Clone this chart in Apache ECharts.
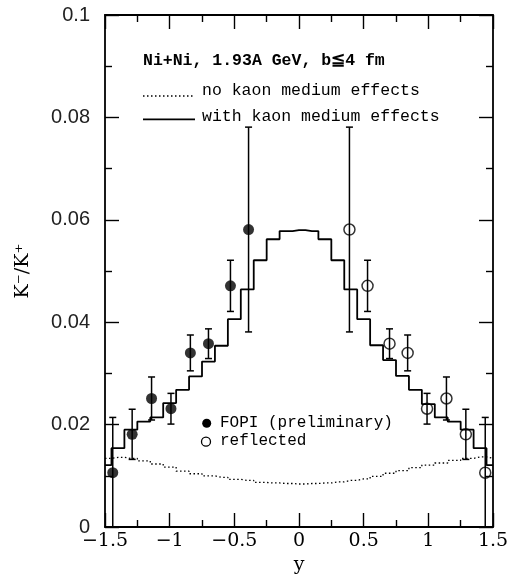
<!DOCTYPE html>
<html><head><meta charset="utf-8">
<script src="https://cdn.jsdelivr.net/npm/echarts@6/dist/echarts.min.js"></script>
<style>html,body{margin:0;padding:0;background:#fff}#c{width:512px;height:587px}</style>
</head><body><div id="c"></div>
<script>
// rapidity bin centres of the model histograms
const binCenters = [-1.5,-1.4,-1.3,-1.2,-1.1,-1.0,-0.9,-0.8,-0.7,-0.6,-0.5,-0.4,-0.3,-0.2,-0.1,0,
  0.1,0.2,0.3,0.4,0.5,0.6,0.7,0.8,0.9,1.0,1.1,1.2,1.3,1.4,1.5];
// K-/K+ with kaon medium effects (solid histogram)
const withMedium = [0.0121,0.0154,0.0190,0.0206,0.0214,0.0242,0.0268,0.0294,0.0323,0.0354,0.0406,0.0464,0.0521,0.0562,0.0578,0.0580,
  0.0578,0.0562,0.0521,0.0464,0.0406,0.0355,0.0326,0.0295,0.0268,0.0240,0.0214,0.0206,0.0190,0.0154,0.0121];
// K-/K+ without kaon medium effects (dotted histogram)
const noMedium = [0.0134,0.0136,0.0134,0.0129,0.0123,0.0117,0.0109,0.0104,0.0100,0.0097,0.0093,0.0091,0.0087,0.0086,0.0085,0.0084,
  0.0085,0.0086,0.0088,0.0091,0.0094,0.0099,0.0105,0.0110,0.0116,0.0121,0.0125,0.0130,0.0134,0.0137,0.0134];
// FOPI (preliminary) data
const fopiRapidity = [-1.44,-1.29,-1.14,-0.99,-0.84,-0.70,-0.53,-0.39];
const fopiRatio    = [0.0106,0.0181,0.0251,0.0231,0.0340,0.0358,0.0471,0.0581];
const fopiError    = [0.0108,0.0049,0.0042,0.0030,0.0035,0.0029,0.0050,0.0200];
// reflected points
const reflRapidity = [1.44,1.29,1.14,0.99,0.84,0.70,0.53,0.39];
const reflRatio    = [0.0106,0.0181,0.0251,0.0231,0.0340,0.0358,0.0471,0.0581];
const reflError    = [0.0108,0.0049,0.0042,0.0030,0.0035,0.0029,0.0050,0.0200];

const titleText = 'Ni+Ni, 1.93A GeV, b\u22664 fm';
const legendNo = 'no kaon medium effects';
const legendWith = 'with kaon medium effects';
const legendFopi = 'FOPI (preliminary)';
const legendRefl = 'reflected';
const xName = 'y';
const yName = 'K\u207B/K\u207A';

const zip = (a, b) => a.map((v, i) => [v, b[i]]);
const errData = fopiRapidity.map((x, i) => [x, fopiRatio[i] - fopiError[i], fopiRatio[i] + fopiError[i]])
  .concat(reflRapidity.map((x, i) => [x, reflRatio[i] - reflError[i], reflRatio[i] + reflError[i]]));

const chart = echarts.init(document.getElementById('c'));
const lineCol = '#000';
function xAx(pos, labels) {
  return {
    type: 'value', position: pos, min: -1.5, max: 1.5, interval: 0.5,
    name: labels ? xName : '', nameLocation: 'middle', nameGap: 22,
    nameTextStyle: { fontFamily: 'DejaVu Serif', fontSize: 19, color: '#000' },
    axisLine: { show: true, onZero: false, lineStyle: { color: lineCol, width: 1.8 } },
    axisTick: { show: true, inside: true, length: 14, lineStyle: { color: lineCol, width: 1.4 } },
    minorTick: { show: true, splitNumber: 2, length: 7, lineStyle: { color: lineCol, width: 1.4 } },
    splitLine: { show: false },
    axisLabel: { show: labels, margin: 5, fontFamily: 'DejaVu Serif', fontSize: 19, color: '#000',
      formatter: v => String(parseFloat(v.toFixed(2))).replace('-', '\u2212') }
  };
}
function yAx(pos, labels) {
  return {
    type: 'value', position: pos, min: 0, max: 0.1, interval: 0.02,
    name: labels ? yName : '', nameLocation: 'middle', nameGap: 72, nameRotate: 90,
    nameTextStyle: { fontFamily: 'DejaVu Serif', fontSize: 19, color: '#000' },
    axisLine: { show: true, onZero: false, lineStyle: { color: lineCol, width: 1.8 } },
    axisTick: { show: true, inside: true, length: 14, lineStyle: { color: lineCol, width: 1.4 } },
    minorTick: { show: true, splitNumber: 2, length: 7, lineStyle: { color: lineCol, width: 1.4 } },
    splitLine: { show: false },
    axisLabel: { show: labels, margin: 15, fontFamily: 'Liberation Sans', fontSize: 20, color: '#222',
      formatter: v => String(parseFloat(v.toFixed(3))) }
  };
}

const legendFont = '16.5px "Liberation Mono"';
chart.setOption({
  animation: false,
  grid: { left: 105, right: 19, top: 15, bottom: 60, containLabel: false },
  xAxis: [xAx('bottom', true), xAx('top', false)],
  yAxis: [yAx('left', true), yAx('right', false)],
  series: [
    { type: 'line', name: legendNo, data: zip(binCenters, noMedium), step: 'middle', symbol: 'none',
      lineStyle: { color: '#000', width: 1.3, type: [1.5, 2.5] }, z: 2 },
    { type: 'line', name: legendWith, data: zip(binCenters, withMedium), step: 'middle', symbol: 'none',
      lineStyle: { color: '#000', width: 1.8 }, z: 3 },
    { type: 'custom', name: 'errors', clip: true, data: errData, z: 4,
      renderItem: (params, api) => {
        const x = api.value(0), lo = api.value(1), hi = api.value(2);
        const t = api.coord([x, hi]), b = api.coord([x, lo]);
        const w = 3.5, st = { stroke: '#000', lineWidth: 1.5 };
        return { type: 'group', children: [
          { type: 'line', shape: { x1: t[0], y1: t[1], x2: b[0], y2: b[1] }, style: st },
          { type: 'line', shape: { x1: t[0] - w, y1: t[1], x2: t[0] + w, y2: t[1] }, style: st },
          { type: 'line', shape: { x1: b[0] - w, y1: b[1], x2: b[0] + w, y2: b[1] }, style: st }
        ] };
      } },
    { type: 'scatter', name: legendFopi, data: zip(fopiRapidity, fopiRatio), symbol: 'circle', symbolSize: 11,
      itemStyle: { color: '#000' }, z: 5 },
    { type: 'scatter', name: legendRefl, data: zip(reflRapidity, reflRatio), symbol: 'circle', symbolSize: 11,
      itemStyle: { color: 'rgba(0,0,0,0)', borderColor: '#000', borderWidth: 1.5 }, z: 5 }
  ],
  graphic: [
    { type: 'text', x: 143, y: 61, style: { text: titleText, font: 'bold 16.5px "Liberation Mono"', fill: '#000', verticalAlign: 'middle', textVerticalAlign: 'middle' } },
    { type: 'line', shape: { x1: 143, y1: 96, x2: 195, y2: 96 }, style: { stroke: '#000', lineWidth: 1.3, lineDash: [1.5, 2.5] } },
    { type: 'text', x: 202, y: 91, style: { text: legendNo, font: legendFont, fill: '#000', verticalAlign: 'middle', textVerticalAlign: 'middle' } },
    { type: 'line', shape: { x1: 143, y1: 119.3, x2: 195, y2: 119.3 }, style: { stroke: '#000', lineWidth: 1.8 } },
    { type: 'text', x: 202, y: 117, style: { text: legendWith, font: legendFont, fill: '#000', verticalAlign: 'middle', textVerticalAlign: 'middle' } },
    { type: 'circle', shape: { cx: 206.7, cy: 423.3, r: 4.5 }, style: { fill: '#000' } },
    { type: 'text', x: 220, y: 422.5, style: { text: legendFopi, font: '16px "Liberation Mono"', fill: '#000', verticalAlign: 'middle', textVerticalAlign: 'middle' } },
    { type: 'circle', shape: { cx: 206, cy: 441.7, r: 4.5 }, style: { fill: 'none', stroke: '#000', lineWidth: 1.3 } },
    { type: 'text', x: 220, y: 441, style: { text: legendRefl, font: '16px "Liberation Mono"', fill: '#000', verticalAlign: 'middle', textVerticalAlign: 'middle' } }
  ]
});
</script></body></html>
